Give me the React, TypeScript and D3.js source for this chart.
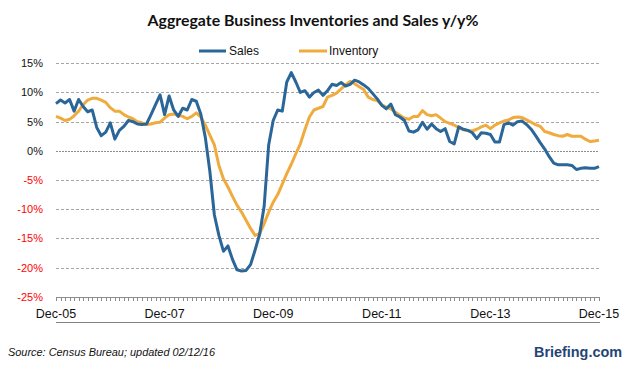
import React from 'react';
import * as d3 from 'd3';

// monthly y/y % change, Dec-05 .. Dec-15
const sales = [
  8.1, 8.7, 8.2, 8.8, 6.8, 8.8, 7.6, 6.7, 7.0, 4.0,
  2.6, 3.2, 4.8, 2.0, 3.5, 4.2, 5.2, 5.0, 4.6, 4.5,
  4.6, 6.2, 7.9, 9.6, 6.2, 9.4, 7.0, 5.9, 7.3, 7.0,
  8.8, 8.5, 6.3, 2.3, -3.5, -11.0, -14.5, -17.2, -16.3, -18.6,
  -20.4, -20.6, -20.5, -19.5, -17.0, -14.3, -9.5, 1.0, 5.2, 7.0,
  6.8, 11.8, 13.4, 11.8, 10.0, 10.3, 9.2, 10.0, 10.4, 9.5,
  10.3, 11.4, 11.2, 11.7, 11.1, 11.4, 12.1, 11.8, 11.3, 10.7,
  9.8, 8.9, 7.8, 7.2, 8.0, 6.2, 5.8, 5.2, 3.4, 3.2,
  3.6, 4.9, 3.7, 4.6, 3.8, 3.3, 3.8, 1.6, 1.2, 4.1,
  3.7, 3.5, 3.1, 2.1, 3.1, 3.0, 2.8, 1.5, 1.5, 4.5,
  4.8, 4.4, 5.0, 5.1, 4.5, 3.7, 2.6, 1.4, 0.3, -1.0,
  -2.1, -2.4, -2.4, -2.4, -2.5, -3.2, -3.0, -2.9, -3.0, -3.0, -2.7,
];

const inventory = [
  5.9, 5.6, 5.2, 5.4, 6.0, 6.8, 7.9, 8.7, 9.0, 9.0,
  8.7, 8.3, 7.4, 6.8, 6.8, 6.2, 5.8, 5.5, 5.0, 4.8,
  4.5, 4.6, 4.8, 4.9, 5.6, 6.2, 6.3, 6.1, 5.9, 5.5,
  5.9, 6.5, 5.8, 4.4, 2.7, 1.0, -2.5, -4.8, -6.2, -7.8,
  -9.3, -10.5, -11.9, -13.3, -14.5, -14.2, -12.5, -10.5, -8.8, -7.5,
  -5.7, -3.9, -2.3, -0.5, 1.2, 3.6, 5.8, 7.0, 7.3, 7.6,
  9.2, 9.5, 9.9, 10.6, 11.3, 11.9, 11.5, 11.0, 10.5, 9.2,
  8.8, 8.6, 7.9, 7.5, 7.2, 6.6, 6.1, 5.6, 5.4, 5.9,
  5.9, 6.9, 6.2, 6.0, 6.2, 5.6, 5.0, 4.7, 4.4, 4.0,
  3.6, 3.5, 3.4, 3.7, 4.1, 4.4, 3.8, 4.4, 4.8, 5.1,
  5.3, 5.7, 5.8, 5.7, 5.3, 4.9, 4.5, 4.2, 3.3, 3.1,
  2.8, 2.6, 2.5, 2.8, 2.5, 2.5, 2.5, 2.0, 1.6, 1.7, 1.8,
];

const xTickLabels = ['Dec-05', 'Dec-07', 'Dec-09', 'Dec-11', 'Dec-13', 'Dec-15'];
const yTicks = [15, 10, 5, 0, -5, -10, -15, -20, -25];

const W = 626;
const H = 367;
const SALES_COLOR = '#2b6699';
const INV_COLOR = '#f0ab3e';

export default function App() {
  const x = d3.scaleLinear().domain([0, sales.length - 1]).range([56, 599]);
  const y = d3.scaleLinear().domain([-25, 15]).range([296.7, 63.3]);

  const line = d3.line<number>()
    .x((_, i) => x(i))
    .y(d => y(d));

  const months = d3.range(sales.length);
  const font = '"Liberation Sans", Arial, sans-serif';

  return (
    <div style={{ position: 'absolute', left: 0, top: 0 }}>
      <svg width={W} height={H} style={{ display: 'block', background: '#fff' }}>
        <text x={313} y={26} textAnchor="middle" fontFamily="Lato, sans-serif" fontWeight="bold"
          fontSize={15} fill="#111" textLength={331} lengthAdjust="spacingAndGlyphs">
          Aggregate Business Inventories and Sales y/y%
        </text>

        {/* legend */}
        <line x1={199} x2={226} y1={51} y2={51} stroke={SALES_COLOR} strokeWidth={3} />
        <text x={229} y={55} fontFamily={font} fontSize={12} fill="#111">Sales</text>
        <line x1={299} x2={327} y1={51} y2={51} stroke={INV_COLOR} strokeWidth={3} />
        <text x={329} y={55} fontFamily={font} fontSize={12} fill="#111">Inventory</text>

        {/* grid + y labels */}
        {yTicks.map(t => (
          <g key={t}>
            {t > -25 && (
              <line x1={56} x2={599} y1={Math.round(y(t)) + 0.5} y2={Math.round(y(t)) + 0.5}
                stroke={t === 0 ? '#8c8c8c' : '#a6a6a6'} strokeDasharray={t === 0 ? '2,1' : '3,2'} />
            )}
            <text x={43} y={y(t) + 4} textAnchor="end" fontFamily={font} fontSize={11}
              fill={t < 0 ? '#ff0000' : '#111'}>{t}%</text>
          </g>
        ))}

        {/* bottom axis with monthly ticks */}
        <line x1={56} x2={599} y1={297.5} y2={297.5} stroke="#8c8c8c" />
        {months.map(i => (
          <line key={i} x1={Math.round(x(i)) + 0.5} x2={Math.round(x(i)) + 0.5} y1={297} y2={301}
            stroke="#8c8c8c" />
        ))}
        {xTickLabels.map((lab, i) => (
          <text key={lab} x={x(i * 24)} y={318} textAnchor="middle" fontFamily={font}
            fontSize={12.5} fill="#111">{lab}</text>
        ))}
        <line x1={56} x2={600} y1={322.5} y2={322.5} stroke="#7f7f7f" />

        {/* series */}
        <path d={line(inventory) ?? ''} fill="none" stroke={INV_COLOR} strokeWidth={3}
          strokeLinejoin="round" />
        <path d={line(sales) ?? ''} fill="none" stroke={SALES_COLOR} strokeWidth={3}
          strokeLinejoin="round" />

        {/* footer */}
        <text x={8} y={356} fontFamily={font} fontStyle="italic" fontSize={10.5} fill="#111"
          textLength={207} lengthAdjust="spacingAndGlyphs">
          Source: Census Bureau; updated 02/12/16
        </text>
        <text x={622} y={357} textAnchor="end" fontFamily={font} fontWeight="bold" fontSize={15}
          fill="#1f4576" textLength={88} lengthAdjust="spacingAndGlyphs">
          Briefing.com
        </text>
      </svg>
    </div>
  );
}
